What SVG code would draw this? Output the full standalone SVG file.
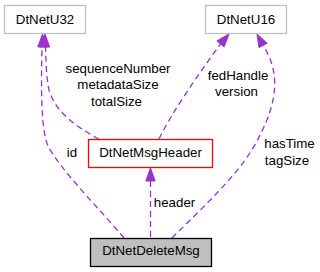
<svg xmlns="http://www.w3.org/2000/svg" width="320" height="272" viewBox="0 0 320 272">
<style>
text{font-family:"Liberation Sans",Arial,sans-serif;font-size:13.3px;fill:#000;text-anchor:middle}
.e{fill:none;stroke:#9a32cd;stroke-width:1.3;stroke-dasharray:6,4}
.ah{fill:#9a32cd;stroke:#9a32cd;stroke-width:1}
.box{fill:#fff;stroke:#bfbfbf;stroke-width:1.3}
</style>
<rect width="320" height="272" fill="#fff"/>
<g id="edges">
<path class="e" d="M124,238 C99,208 62,172 48,146 C41,130 41,90 42,47"/>
<polygon class="ah" points="42.5,34 37.8,47 47.2,47"/>
<text x="72" y="157">id</text>
<path class="e" d="M99,139 C78,128 55,112 49,90 C46,75 46,60 45.5,47"/>
<polygon class="ah" points="45,34 40.3,47 49.7,47"/>
<text x="118" y="73">sequenceNumber</text>
<text x="118" y="89.3">metadataSize</text>
<text x="116.5" y="105.6">totalSize</text>
<path class="e" d="M159,139 C172,112 200,72 220.5,44"/>
<polygon class="ah" points="229,34 216.9,40.9 224.1,46.9"/>
<text x="238" y="80">fedHandle</text>
<text x="236.5" y="96">version</text>
<path class="e" d="M172,238 C205,205 244,170 260,135 C278,100 280,72 263.1,45.4"/>
<polygon class="ah" points="257,34 267.2,43.2 259,47.6"/>
<text x="289.5" y="148">hasTime</text>
<text x="287" y="164.5">tagSize</text>
<path class="e" d="M150.5,181 L150.5,238"/>
<polygon class="ah" points="150.5,168 145.8,181 155.2,181"/>
<text x="174.5" y="207">header</text>
</g>
<g id="DtNetU32">
<rect class="box" x="4.5" y="5.5" width="81" height="28"/>
<text x="45" y="23.5">DtNetU32</text>
</g>
<g id="DtNetU16">
<rect class="box" x="205.5" y="5.5" width="81" height="28"/>
<text x="246" y="23.5">DtNetU16</text>
</g>
<g id="DtNetMsgHeader">
<rect x="88.5" y="139.5" width="124" height="28" fill="#fff" stroke="#ff0000" stroke-width="1.3"/>
<text x="150.5" y="156.5">DtNetMsgHeader</text>
</g>
<g id="DtNetDeleteMsg">
<rect x="90.5" y="238.5" width="121" height="28" fill="#bfbfbf" stroke="#000" stroke-width="1.3"/>
<text x="151" y="255">DtNetDeleteMsg</text>
</g>
</svg>
